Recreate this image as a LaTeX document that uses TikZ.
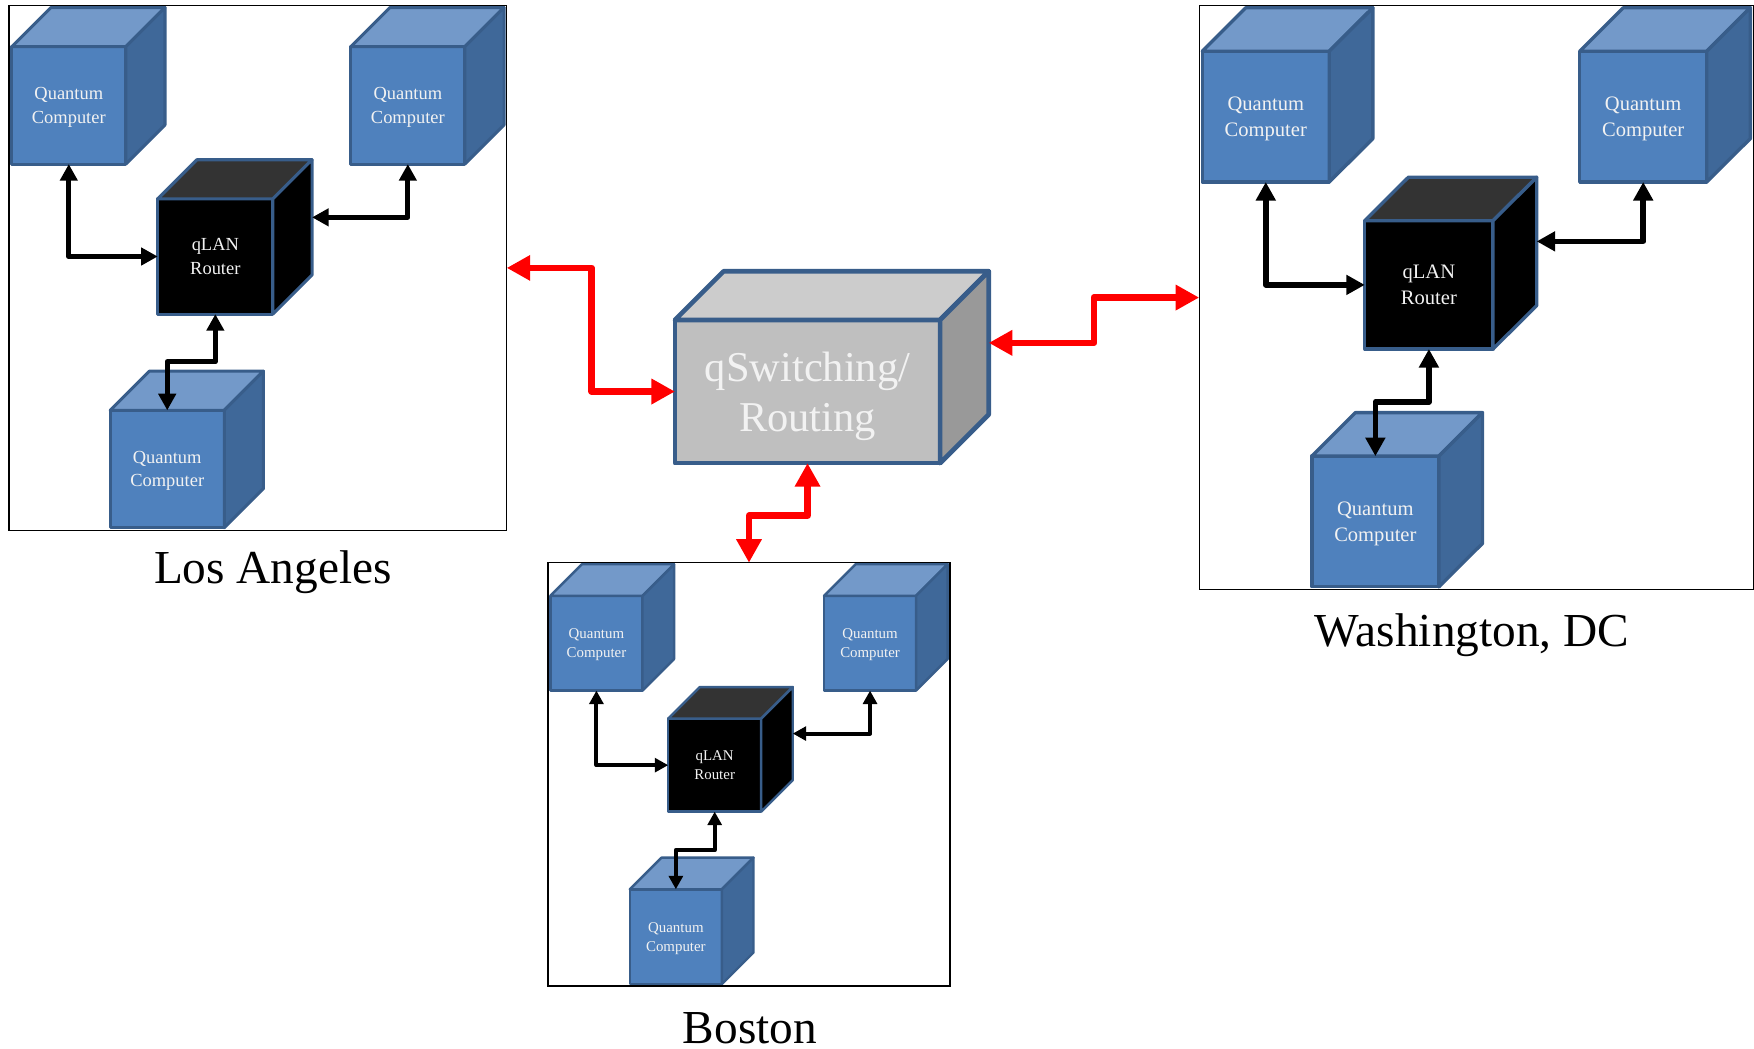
\documentclass[tikz,border=0pt]{standalone}
\usepackage{fontspec}
\setmainfont{Liberation Serif}
\usepackage{xcolor}
\usetikzlibrary{calc}
\usetikzlibrary{arrows.meta}

\definecolor{qcfront}{HTML}{4F81BD}
\definecolor{qctop}{HTML}{7399C9}
\definecolor{qcside}{HTML}{3F6899}
\definecolor{edgeblue}{HTML}{385D8A}
\definecolor{routertop}{HTML}{333333}
\definecolor{swfront}{HTML}{BFBFBF}
\definecolor{swtop}{HTML}{CCCCCC}
\definecolor{swside}{HTML}{999999}
\definecolor{boxtext}{HTML}{F2F2F2}

\def\qs{1}
\tikzset{
  cubeedge/.style={draw=edgeblue, line width=\qs*2.7pt, line join=round},
  qc/.style={cubeedge, fill=qcfront, text=boxtext, align=center, inner sep=0pt, outer sep=0pt, text depth=0pt,
    minimum width=\qs*102pt, minimum height=\qs*105pt,
    font=\fontsize{\fpeval{16.5*\qs}}{\fpeval{21*\qs}}\selectfont},
  router/.style={qc, fill=black, minimum width=\qs*103pt, minimum height=\qs*103pt},
  switchbox/.style={qc, fill=swfront, line width=4.2pt, minimum width=237pt, minimum height=128pt,
    font=\fontsize{38}{45}\selectfont},
  link/.style={line width=\qs*4.5pt, line join=round, >={Triangle[length=0pt 3.3,width=0pt 3.4]}, <->},
  redlink/.style={link, draw=red, line width=6pt, >={Triangle[length=0pt 3.5,width=0pt 3.6]}},
  sitebox/.style={draw=black, line width=1.2pt, inner sep=0pt, outer sep=0pt, anchor=north west,
    minimum width=\qs*445pt, minimum height=\qs*469pt},
  sitename/.style={anchor=base, inner sep=0pt, font=\fontsize{42.3}{50}\selectfont},
}

% top and side faces of a box whose front is the node #1
\newcommand{\cubefaces}[5]{%
  \path (#1.north west) ++(#2,-#2) coordinate (#1-nw)
        (#1.north east) ++(#2,-#2) coordinate (#1-ne)
        (#1.south east) ++(#2,-#2) coordinate (#1-se)
        (#1.east) ++(#2,-#2) coordinate (#1-back);
  \draw[cubeedge, #5, fill=#3] (#1.north west) -- (#1-nw) -- (#1-ne) -- (#1.north east) -- cycle;
  \draw[cubeedge, #5, fill=#4] (#1.north east) -- (#1-ne) -- (#1-se) -- (#1.south east) -- cycle;
}

% one site: three computers round a qLAN router
\newcommand{\qlan}[3]{%
  \def\qs{#3}%
  \begin{scope}[shift={#2}, scale=#3]
    \begin{scope}
      \clip (0,0) rectangle (445,469);
      \node[qc] (#1-qc1) at (53.5,89.2) {Quantum\\Computer};
      \cubefaces{#1-qc1}{35}{qctop}{qcside}{}
      \node[qc] (#1-qc2) at (356.6,89.2) {Quantum\\Computer};
      \cubefaces{#1-qc2}{35}{qctop}{qcside}{}
      \node[router] (#1-router) at (184.5,224.3) {qLAN\\Router};
      \cubefaces{#1-router}{35}{routertop}{black}{}
      \node[qc] (#1-qc3) at (141.5,414.3) {Quantum\\Computer};
      \cubefaces{#1-qc3}{35}{qctop}{qcside}{}
      \draw[link] (#1-qc1.south) |- (#1-router.west);
      \draw[link] (#1-qc2.south) |- (#1-router-back);
      \draw[link] (#1-router.south) -- ++(0,42.5) -| (#1-qc3.north);
    \end{scope}
    \node[sitebox] (#1-frame) at (0,0) {};
  \end{scope}
  \def\qs{1}%
}

\begin{document}
\begin{tikzpicture}[x=1pt,y=-1pt]
  \useasboundingbox (0,0) rectangle (1568,937);

  \qlan{la}{(8,5)}{1}
  \qlan{dc}{(1072,5)}{1.113}
  \qlan{bos}{(490,503)}{0.807}

  \node[sitename] (la-name) at (244,522) {Los Angeles};
  \node[sitename] (dc-name) at (1316,578) {Washington, DC};
  \node[sitename] (bos-name) at (670.5,933) {Boston};

  % central switch
  \node[switchbox] (switch) at (721.9,350) {qSwitching/\\Routing};
  \cubefaces{switch}{43.5}{swtop}{swside}{line width=4.2pt}

  \draw[redlink] (la-frame.east) -- ++(76,0) |- (switch.west);
  \draw[redlink] (switch-back) -- ++(94,0) |- (dc-frame.west);
  \draw[redlink] (switch.south) -- ++(0,47) -| (bos-frame.north);
\end{tikzpicture}
\end{document}
